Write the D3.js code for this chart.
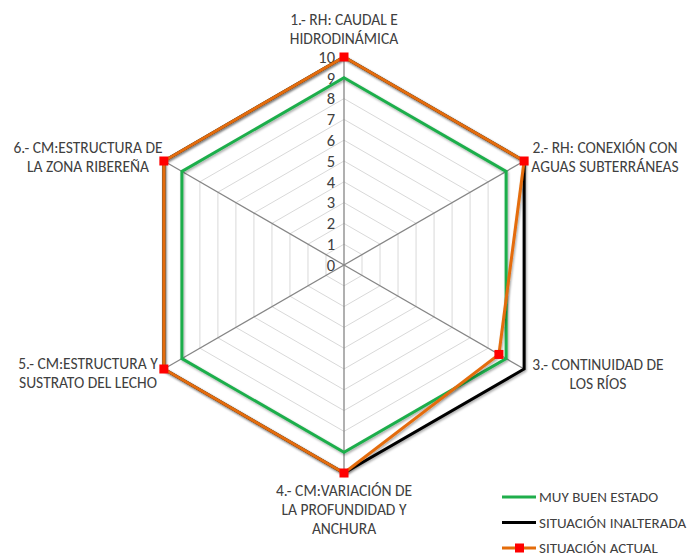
<!DOCTYPE html>
<html>
<head>
<meta charset="utf-8">
<script src="https://cdn.jsdelivr.net/npm/d3@7"></script>
<style>
  body { margin: 0; background: #fff; }
  text { font-family: Carlito, "Liberation Sans Narrow", "Noto Sans", sans-serif; fill: #404040; }
</style>
</head>
<body>
<div class="container"></div>
<script>
// axes (clockwise from top), label lines
const axisLabels = [
  ["1.- RH: CAUDAL E", "HIDRODINÁMICA"],
  ["2.- RH: CONEXIÓN CON", "AGUAS SUBTERRÁNEAS"],
  ["3.- CONTINUIDAD DE", "LOS RÍOS"],
  ["4.- CM:VARIACIÓN DE", "LA PROFUNDIDAD Y", "ANCHURA"],
  ["5.- CM:ESTRUCTURA Y", "SUSTRATO DEL LECHO"],
  ["6.- CM:ESTRUCTURA DE", "LA ZONA RIBEREÑA"]
];
const seriesNames = ["MUY BUEN ESTADO", "SITUACIÓN INALTERADA", "SITUACIÓN ACTUAL"];
const muyBuen = [9, 9, 9, 9, 9, 9];
const inalterada = [10, 10, 10, 10, 10, 10];
const actual = [10, 10, 8.6, 10, 10, 10];
const ticks = [0, 1, 2, 3, 4, 5, 6, 7, 8, 9, 10];

const W = 688, H = 556;
const cx = 344, cy = 265, R = 208;

const svg = d3.select(".container").append("svg")
  .attr("width", W).attr("height", H);

const defs = svg.append("defs");
const f = defs.append("filter").attr("id", "shadow")
  .attr("x", "-10%").attr("y", "-10%").attr("width", "120%").attr("height", "120%");
f.append("feDropShadow").attr("dx", 1).attr("dy", 1.5).attr("stdDeviation", 1)
  .attr("flood-color", "#000").attr("flood-opacity", 0.35);

const r = d3.scaleLinear().domain([0, 10]).range([0, R]);
const angle = i => i * 2 * Math.PI / axisLabels.length;
const pt = (i, v) => [cx + r(v) * Math.sin(angle(i)), cy - r(v) * Math.cos(angle(i))];

// grid hexagons
const line = d3.line();
svg.append("g").selectAll("path").data(ticks.slice(1)).join("path")
  .attr("d", t => line(axisLabels.map((_, i) => pt(i, t))) + "Z")
  .attr("fill", "none").attr("stroke", "#d9d9d9").attr("stroke-width", 1);

// spokes
svg.append("g").selectAll("line").data(axisLabels).join("line")
  .attr("x1", cx).attr("y1", cy)
  .attr("x2", (d, i) => pt(i, 10)[0]).attr("y2", (d, i) => pt(i, 10)[1])
  .attr("stroke", "#868686").attr("stroke-width", 1.3);

// tick labels
svg.append("g").selectAll("text").data(ticks).join("text")
  .attr("x", cx - 9).attr("y", t => cy - r(t))
  .attr("dy", "0.35em").attr("text-anchor", "end")
  .attr("font-size", 16.5).style("fill", "#404040").text(t => t);

// series
const series = [
  { vals: muyBuen, color: "#1fae4b" },
  { vals: inalterada, color: "#000000" },
  { vals: actual, color: "#e46c0a" }
];
series.forEach(s => {
  svg.append("path")
    .attr("d", line(s.vals.map((v, i) => pt(i, v))) + "Z")
    .attr("fill", "none").attr("stroke", s.color).attr("stroke-width", 3)
    .attr("stroke-linejoin", "miter").attr("filter", "url(#shadow)");
});
svg.append("g").selectAll("rect").data(actual).join("rect")
  .attr("x", (v, i) => pt(i, v)[0] - 4.5).attr("y", (v, i) => pt(i, v)[1] - 4.5)
  .attr("width", 9).attr("height", 9).attr("fill", "#ff0000");

// axis labels
const labelPos = [[344, 20], [605, 148], [598, 365], [344, 491], [88, 364], [88, 148]];
axisLabels.forEach((lines, i) => {
  const t = svg.append("text").attr("text-anchor", "middle").attr("font-size", 15.5);
  lines.forEach((l, j) => {
    t.append("tspan").attr("x", labelPos[i][0]).attr("y", labelPos[i][1] + j * 19)
      .attr("dy", "0.35em").text(l);
  });
});

// legend
const lg = svg.append("g");
seriesNames.forEach((n, i) => {
  const y = 497 + i * 25.5;
  lg.append("line").attr("x1", 502).attr("x2", 536).attr("y1", y).attr("y2", y)
    .attr("stroke", series[i].color).attr("stroke-width", 3);
  if (i === 2) {
    lg.append("rect").attr("x", 515).attr("y", y - 4.5).attr("width", 9).attr("height", 9)
      .attr("fill", "#ff0000");
  }
  lg.append("text").attr("x", 539).attr("y", y).attr("dy", "0.35em")
    .attr("font-size", 15).text(n);
});
</script>
</body>
</html>
